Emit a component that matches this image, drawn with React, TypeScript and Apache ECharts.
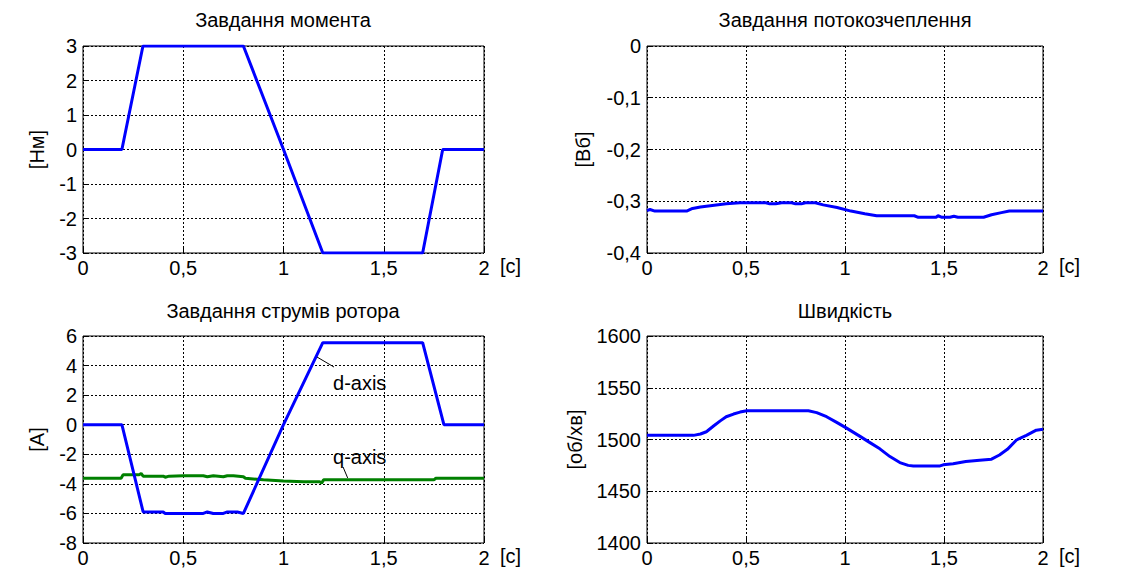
import React, { useEffect, useRef } from "react";
import * as echarts from "echarts";

// ---- Data ----
const titles = ["Завдання момента", "Завдання потокозчеплення", "Завдання струмів ротора", "Швидкість"];
const yUnits = ["[Нм]", "[Вб]", "[A]", "[об/хв]"];
const xUnit = "[c]";

const torqueT = [0, 0.194, 0.299, 0.8, 1.0, 1.196, 1.694, 1.794, 2];
const torqueV = [0, 0, 3, 3, 0, -3, -3, 0, 0];

const fluxT = [0, 0.015, 0.04, 0.2, 0.23, 0.27, 0.33, 0.4, 0.47, 0.6, 0.62, 0.65, 0.68, 0.73, 0.75, 0.78, 0.8, 0.85, 0.89, 0.96, 1.03, 1.1, 1.16, 1.35, 1.37, 1.46, 1.47, 1.49, 1.53, 1.55, 1.57, 1.7, 1.74, 1.79, 1.83, 2];
const fluxV = [-0.318, -0.316, -0.319, -0.319, -0.314, -0.311, -0.308, -0.305, -0.303, -0.303, -0.305, -0.305, -0.303, -0.303, -0.305, -0.305, -0.303, -0.303, -0.307, -0.312, -0.319, -0.324, -0.328, -0.328, -0.331, -0.331, -0.328, -0.331, -0.331, -0.329, -0.331, -0.331, -0.326, -0.322, -0.319, -0.319];

const idT = [0, 0.194, 0.3, 0.4, 0.41, 0.45, 0.6, 0.62, 0.65, 0.7, 0.72, 0.77, 0.8, 1.0, 1.196, 1.694, 1.8, 2];
const idV = [0, 0, -5.9, -5.9, -6.0, -6.0, -6.0, -5.9, -6.0, -6.0, -5.9, -5.9, -6.0, 0, 5.55, 5.55, 0, 0];

const iqT = [0, 0.19, 0.2, 0.28, 0.29, 0.3, 0.4, 0.41, 0.43, 0.5, 0.6, 0.62, 0.65, 0.7, 0.72, 0.75, 0.8, 0.81, 0.9, 1.0, 1.1, 1.18, 1.19, 1.2, 1.75, 1.76, 2];
const iqV = [-3.62, -3.62, -3.38, -3.38, -3.3, -3.48, -3.48, -3.55, -3.48, -3.45, -3.45, -3.52, -3.45, -3.52, -3.45, -3.45, -3.52, -3.62, -3.73, -3.8, -3.85, -3.85, -3.95, -3.73, -3.73, -3.62, -3.62];

const speedT = [0, 0.235, 0.27, 0.3, 0.336, 0.37, 0.4, 0.437, 0.47, 0.504, 0.815, 0.857, 0.907, 0.958, 1.008, 1.076, 1.126, 1.176, 1.227, 1.277, 1.319, 1.345, 1.48, 1.496, 1.546, 1.61, 1.68, 1.74, 1.78, 1.82, 1.866, 1.916, 1.966, 2];
const speedV = [1504, 1504, 1505.3, 1507.5, 1513, 1518, 1522, 1524.6, 1526.5, 1527.8, 1527.8, 1526, 1522, 1516.5, 1511, 1503, 1497, 1491, 1483.5, 1477.7, 1475, 1474.5, 1474.5, 1475.5, 1476.6, 1478.7, 1480, 1481, 1485, 1490.5, 1499.5, 1504, 1509, 1510];

const yRanges = [
  { min: -3, max: 3, interval: 1 },
  { min: -0.4, max: 0, interval: 0.1 },
  { min: -8, max: 6, interval: 2 },
  { min: 1400, max: 1600, interval: 50 },
];

const zip = (t: number[], v: number[]) => t.map((x, i) => [x, v[i]]);

const FONT = "'Liberation Sans', Arial, sans-serif";
const FS = 20;

export default function App() {
  const ref = useRef<HTMLDivElement>(null);
  useEffect(() => {
    if (!ref.current) return;
    const chart = echarts.init(ref.current, undefined, { renderer: "svg" });
    const grids = [
      { left: 83, top: 46, width: 401, height: 207 },
      { left: 647, top: 46, width: 396, height: 207 },
      { left: 83, top: 336, width: 401, height: 207 },
      { left: 647, top: 336, width: 396, height: 207 },
    ];
    const yGaps = [36, 54, 36, 62];
    const titlePos = [
      [283, 20],
      [845, 20],
      [283, 311],
      [845, 311],
    ];
    const fmtX = (v: number) => String(Math.round(v * 10) / 10).replace(".", ",");
    const fmtY = (i: number) => (v: number) => {
      if (i === 1) {
        if (Math.abs(v) < 1e-9) return "0";
        return v.toFixed(1).replace(".", ",");
      }
      return String(Math.round(v));
    };
    const split = { show: true, lineStyle: { color: "#000", type: [2, 2], width: 1 } };
    const option: any = {
      animation: false,
      backgroundColor: "#fff",
      grid: grids.map((g) => ({ ...g, show: true, borderColor: "#000", borderWidth: 1, backgroundColor: "#fff" })),
      xAxis: grids.map((_, i) => ({
        type: "value",
        gridIndex: i,
        min: 0,
        max: 2,
        interval: 0.5,
        axisLine: { show: false, onZero: false },
        axisTick: { show: true, inside: true, length: 5, lineStyle: { color: "#000" } },
        splitLine: split,
        axisLabel: { color: "#000", fontSize: FS, fontFamily: FONT, margin: 5, formatter: fmtX },
        name: xUnit,
        nameLocation: "end",
        nameGap: 16,
        nameTextStyle: { color: "#000", fontSize: FS, fontFamily: FONT, align: "left", verticalAlign: "top", padding: [3, 0, 0, 0] },
      })),
      yAxis: grids.map((_, i) => ({
        type: "value",
        gridIndex: i,
        ...yRanges[i],
        axisLine: { show: false, onZero: false },
        axisTick: { show: true, inside: true, length: 5, lineStyle: { color: "#000" } },
        splitLine: split,
        axisLabel: { color: "#000", fontSize: FS, fontFamily: FONT, margin: 6, formatter: fmtY(i) },
        name: yUnits[i],
        nameLocation: "middle",
        nameGap: yGaps[i],
        nameTextStyle: { color: "#000", fontSize: FS, fontFamily: FONT },
      })),
      graphic: titles.map((t, i) => ({
        type: "text",
        x: titlePos[i][0],
        y: titlePos[i][1],
        style: { text: t, fill: "#000", font: `${FS}px ${FONT}`, textAlign: "center", textVerticalAlign: "middle" },
      })),
      series: [
        {
          type: "line", xAxisIndex: 0, yAxisIndex: 0, data: zip(torqueT, torqueV), showSymbol: false,
          lineStyle: { color: "#0000ff", width: 3 },
        },
        {
          type: "line", xAxisIndex: 1, yAxisIndex: 1, data: zip(fluxT, fluxV), showSymbol: false,
          lineStyle: { color: "#0000ff", width: 3 },
        },
        {
          type: "line", xAxisIndex: 2, yAxisIndex: 2, data: zip(iqT, iqV), showSymbol: false,
          lineStyle: { color: "#008000", width: 3 },
          markLine: {
            silent: true, symbol: ["none", "none"], label: { show: false },
            lineStyle: { color: "#000", width: 1, type: "solid" },
            data: [[{ coord: [1.297, -2.86] }, { coord: [1.32, -3.6] }]],
          },
          markPoint: {
            silent: true, symbol: "circle", symbolSize: 0,
            label: { show: true, position: "inside", formatter: "q-axis", color: "#000", fontSize: FS, fontFamily: FONT },
            data: [{ coord: [1.38, -2.18] }],
          },
        },
        {
          type: "line", xAxisIndex: 2, yAxisIndex: 2, data: zip(idT, idV), showSymbol: false,
          lineStyle: { color: "#0000ff", width: 3 },
          markLine: {
            silent: true, symbol: ["none", "none"], label: { show: false },
            lineStyle: { color: "#000", width: 1, type: "solid" },
            data: [[{ coord: [1.167, 4.58] }, { coord: [1.252, 3.9] }]],
          },
          markPoint: {
            silent: true, symbol: "circle", symbolSize: 0,
            label: { show: true, position: "inside", formatter: "d-axis", color: "#000", fontSize: FS, fontFamily: FONT },
            data: [{ coord: [1.38, 2.82] }],
          },
        },
        {
          type: "line", xAxisIndex: 3, yAxisIndex: 3, data: zip(speedT, speedV), showSymbol: false,
          lineStyle: { color: "#0000ff", width: 3 },
        },
      ],
    };
    chart.setOption(option);
    return () => chart.dispose();
  }, []);
  return (
    <div
      ref={ref}
      style={{ position: "absolute", left: 0, top: 0, width: 1127, height: 574, background: "#fff" }}
    />
  );
}
